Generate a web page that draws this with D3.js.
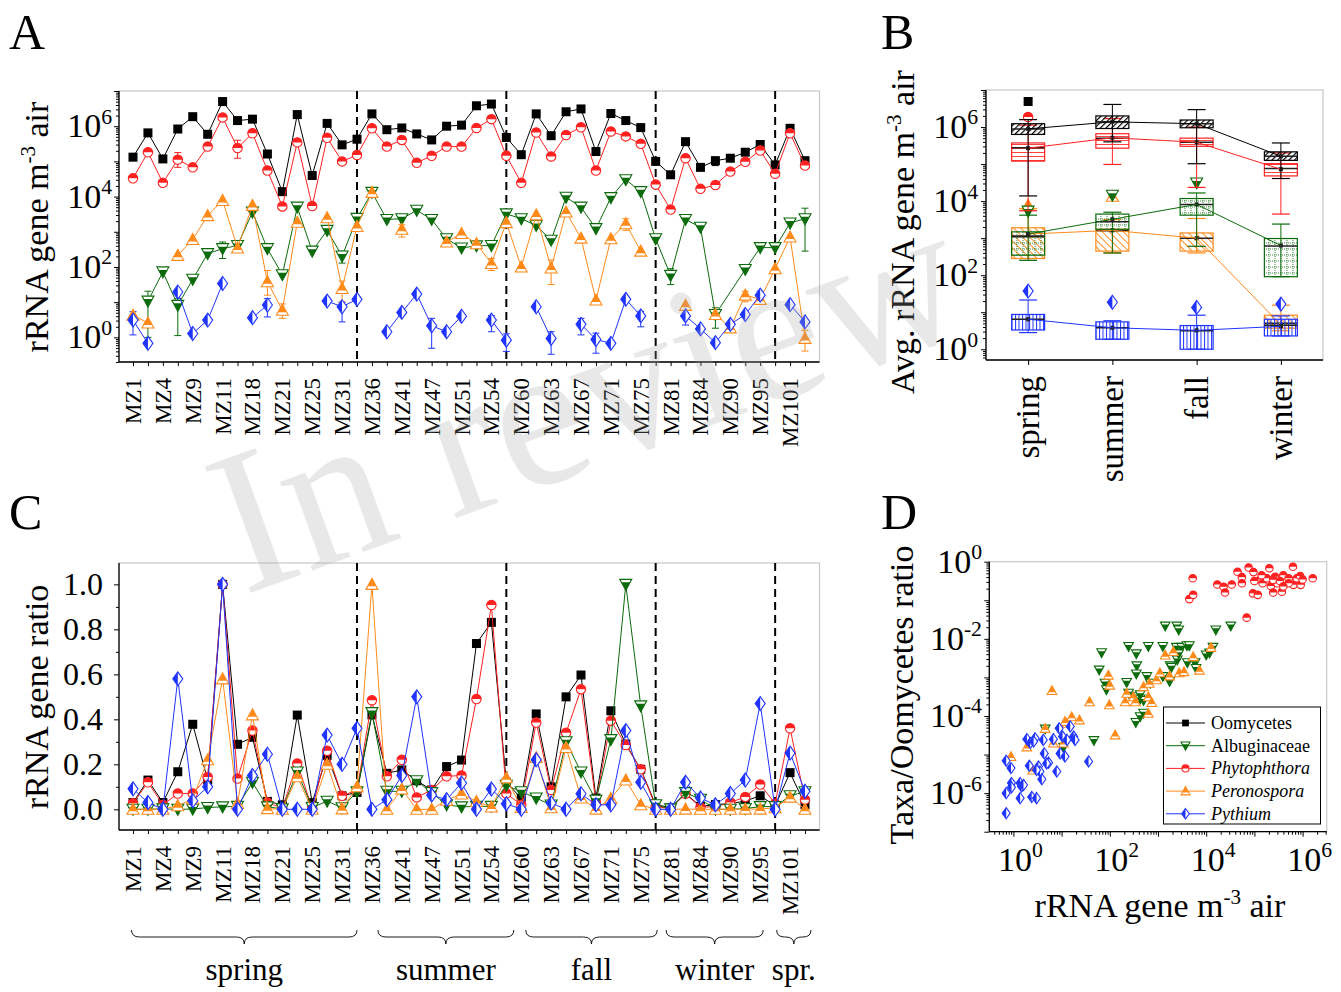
<!DOCTYPE html>
<html>
<head>
<meta charset="utf-8">
<script src="https://cdn.jsdelivr.net/npm/d3@7"></script>
<style>
body { margin: 0; background: #fff; }
svg { display: block; }
text { font-family: "Liberation Serif", "Times New Roman", serif; fill: #000; }
</style>
</head>
<body>
<script>
// ---- data ----
// sample tick labels (every second sample is labelled)
var tickLabels = ["MZ1","MZ4","MZ9","MZ11","MZ18","MZ21","MZ25","MZ31","MZ36","MZ41","MZ47","MZ51",
  "MZ54","MZ60","MZ63","MZ67","MZ71","MZ75","MZ81","MZ84","MZ90","MZ95","MZ101"];
var seasonBreaks = [15, 25, 35, 43];
var seasonNames = ["spring", "summer", "fall", "winter", "spr."];
var seasonFrom = [-0.1, 16.4, 26.3, 35.7, 43.1];
var seasonTo = [15, 25.5, 35.1, 42.2, 45.4];

// panel A, log10 of rRNA gene m-3 air (null = not detected)
var oomycetesLog = [5.12,5.81,5.07,5.92,6.27,5.77,6.70,6.16,6.20,5.21, 4.14,6.33,4.60,6.08,5.47,5.63,6.35,5.90,5.95,5.78,
  5.61,6.00,6.03,6.58,6.63,5.68,5.19,6.35,5.73,6.41, 6.49,5.28,6.36,6.16,5.96,5.00,4.62,5.56,4.83,5.02, 5.09,5.26,5.48,4.90,5.94,5.02];
var phytophthoraLog = [4.52,5.26,4.39,5.05,4.83,5.42,6.25,5.38,5.80,4.74, 3.72,5.54,3.73,5.67,5.00,5.18,5.94,5.42,5.61,4.96,
  5.16,5.42,5.42,5.95,6.20,5.16,4.39,5.82,5.14,5.75, 5.97,4.74,5.85,5.71,5.50,4.34,3.63,5.09,4.22,4.33, 4.71,4.99,5.31,4.65,5.80,4.88];
var albuginaceaeLog = [null,1.03,1.86,0.91,1.65,2.38,2.52,2.61,3.56,2.52, 1.78,3.70,2.45,3.04,2.31,3.38,4.12,3.35,3.37,3.61,
  3.35,2.80,2.54,2.60,2.61,3.51,3.37,3.18,2.76,3.98, 3.70,3.09,3.97,4.48,4.14,2.80,1.76,3.35,3.13,0.65, null,1.93,2.55,2.55,3.25,3.37];
var peronosporaLog = [0.63,0.41,null,2.33,2.78,3.46,3.89,2.54,3.75,1.58, 0.77,3.27,null,3.40,1.39,3.15,4.12,null,3.07,null,
  null,2.71,2.95,2.66,2.10,3.26,2.00,3.48,1.97,3.56, 2.82,1.06,2.80,3.23,2.45,null,null,0.91,null,0.65, 0.27,1.20,1.08,1.95,2.85,-0.03];
var pythiumLog = [0.49,-0.17,null,1.29,0.11,0.49,1.53,null,0.56,0.92, null,null,null,1.03,0.87,1.08,null,0.16,0.71,1.23,
  0.33,0.16,0.60,null,0.49,-0.08,null,0.87,-0.03,null, 0.37,-0.06,-0.17,1.08,0.61,null,null,0.61,0.24,-0.15, 0.37,0.65,1.20,null,0.93,0.44];

// error bars in panel A: [series, sample index, low log10, high log10]
var errorBarsA = [
  ["phy",3,4.83,5.25],["phy",7,5.09,5.6],
  ["alb",1,0.0,1.31],["alb",3,0.05,1.1],["alb",6,2.24,2.71],["alb",14,2.11,2.45],["alb",36,1.50,1.95],["alb",39,0.26,0.84],["alb",45,2.45,3.67],
  ["pyt",0,0.07,0.73],["pyt",9,0.58,1.10],["pyt",14,0.44,1.0],["pyt",20,-0.31,0.54],["pyt",24,0.16,0.62],["pyt",25,-0.40,0.1],
  ["pyt",28,-0.48,0.16],["pyt",30,0.07,0.54],["pyt",31,-0.45,0.12],["pyt",34,0.30,0.74],["pyt",37,0.35,0.7],["pyt",42,0.96,1.31],
  ["per",9,1.20,1.9],["per",10,0.54,0.95],["per",14,1.01,1.6],["per",18,2.85,3.2],["per",24,1.90,2.24],["per",28,1.50,2.2],
  ["per",33,3.04,3.37],["per",41,1.01,1.31],["per",45,-0.39,0.2],
  ["oom",39,4.88,5.12]
];

// panel C, rRNA gene ratio
var ratioOomycetes = [0.03,0.13,0.03,0.167,0.378,0.13,1.0,0.289,0.32,0.035, 0.02,0.419,0.03,0.24,0.06,0.075,0.42,0.16,0.175,0.127,
  0.086,0.19,0.219,0.737,0.831,0.12,0.049,0.424,0.1,0.5, 0.597,0.05,0.438,0.29,0.178,0.02,0.008,0.07,0.013,0.021, 0.025,0.037,0.06,0.016,0.163,0.02];
var ratioPhytophthora = [0.027,0.12,0.02,0.07,0.07,0.144,1.0,0.137,0.35,0.03, 0.005,0.204,0.005,0.26,0.06,0.085,0.485,0.147,0.22,0.053,
  0.086,0.147,0.15,0.49,0.908,0.07,0.02,0.386,0.086,0.34, 0.534,0.03,0.394,0.286,0.178,0.012,0.003,0.069,0.009,0.012, 0.03,0.055,0.11,0.025,0.36,0.043];
var ratioAlbuginaceae = [0.0,0.0,0.002,0.0,0.001,0.008,0.011,0.013,0.12,0.011, 0.002,0.166,0.008,0.036,0.007,0.078,0.43,0.08,0.08,0.127,
  0.074,0.02,0.011,0.013,0.013,0.107,0.078,0.05,0.019,0.3, 0.166,0.04,0.31,1.0,0.46,0.02,0.002,0.074,0.045,0.0, 0.0,0.003,0.012,0.012,0.06,0.078];
var ratioPeronospora = [0.0,0.0,0.0,0.016,0.046,0.22,0.58,0.026,0.42,0.003, 0.0,0.145,0.0,0.2,0.002,0.1,1.0,0.0,0.09,0.0,
  0.0,0.04,0.068,0.035,0.01,0.14,0.008,0.23,0.007,0.275, 0.05,0.001,0.048,0.13,0.02,0.0,0.0,0.001,0.0,0.0, 0.0,0.001,0.001,0.007,0.054,0.0];
var ratioPythium = [0.091,0.03,0.0,0.58,0.038,0.1,1.0,0.0,0.15,0.245, 0.0,0.0,0.0,0.33,0.2,0.36,0.0,0.043,0.15,0.5,
  0.063,0.043,0.117,0.0,0.09,0.025,0.0,0.22,0.028,0.0, 0.069,0.02,0.02,0.35,0.12,0.0,0.0,0.12,0.05,0.02, 0.07,0.13,0.47,0.0,0.25,0.08];

// panel B, per season: [whisker low, q1, median, q3, whisker high, mean] in log10
var seasons = ["spring", "summer", "fall", "winter"];
var boxOomycetes = [[4.14,5.80,5.95,6.09,6.20,5.95],[5.60,5.96,6.14,6.30,6.61,6.14],[5.01,5.98,6.09,6.19,6.47,6.09],[4.61,5.10,5.21,5.33,5.57,5.21]];
var boxPhytophthora = [[3.74,5.08,5.44,5.57,6.05,5.43],[4.99,5.43,5.70,5.82,6.23,5.71],[4.37,5.48,5.59,5.70,6.00,5.59],[3.65,4.68,4.88,5.01,5.30,4.86]];
var boxAlbuginaceae = [[2.40,2.54,3.06,3.17,3.62,3.11],[2.60,3.24,3.44,3.65,3.70,3.51],[2.78,3.62,3.91,4.07,4.22,3.91],[1.96,1.96,2.79,2.99,3.38,2.80]];
var boxPeronospora = [[2.45,2.45,3.04,3.28,3.80,3.11],[2.60,2.65,3.20,3.24,3.50,3.21],[2.60,2.65,3.00,3.14,3.53,3.00],[0.50,0.57,0.70,0.92,1.19,0.66]];
var boxPythium = [[0.45,0.52,0.81,0.94,1.33,0.81],[0.27,0.27,0.58,0.74,0.77,0.58],[0.0,0.0,0.50,0.64,0.92,0.51],[0.36,0.36,0.65,0.81,0.90,0.62]];
var outOomycetes = [[6.69],[],[],[]];
var outPhytophthora = [[6.27],[],[],[]];
var outAlbuginaceae = [[3.73],[4.16],[4.49],[]];
var outPeronospora = [[3.89],[4.13],[],[]];
var outPythium = [[1.57],[1.27],[1.13],[1.22]];

// panel D, [log10 rRNA gene m-3 air, log10 taxa/Oomycetes ratio]
var scatterPhytophthora = [[3.72,-0.43],[3.65,-0.97],[3.73,-0.86],[4.23,-0.59],[4.36,-0.65],[4.39,-0.80],[4.53,-0.59],[4.65,-0.26],
  [4.74,-0.40],[4.74,-0.56],[4.88,-0.15],[4.98,-0.27],[4.97,-0.82],[5.07,-0.86],[5.12,-0.46],[5.17,-0.56],[5.26,-0.43],[5.31,-0.17],
  [5.34,-0.63],[5.39,-0.80],[5.43,-0.39],[5.48,-0.56],[5.57,-0.78],[5.60,-0.35],[5.71,-0.43],[5.80,-0.13],[5.81,-0.60],[5.88,-0.43],
  [5.95,-0.37],[5.96,-0.60],[6.00,-0.46],[6.21,-0.43],[4.84,-1.45],[5.39,-0.47],[5.53,-0.50],[5.15,-0.35],[5.71,-0.56],[5.00,-0.50],[5.60,-0.64]];
var scatterAlbuginaceae = [[1.83,-2.36],[1.78,-2.81],[1.90,-3.15],[1.93,-3.32],[1.67,-4.64],[1.04,-4.81],[0.66,-4.34],[2.39,-2.20],
  [2.55,-2.39],[2.56,-2.70],[2.55,-2.91],[2.35,-3.13],[2.39,-3.41],[2.53,-3.50],[2.63,-3.56],[2.70,-3.60],[2.54,-4.17],[2.63,-4.02],
  [2.70,-3.93],[2.80,-2.20],[2.77,-2.98],[2.84,-3.15],[3.10,-2.20],[3.15,-1.67],[3.39,-1.67],[3.43,-1.77],[3.38,-2.22],[3.49,-2.22],
  [3.60,-2.18],[3.25,-2.70],[3.40,-2.55],[3.43,-2.39],[3.61,-2.62],[3.77,-2.62],[3.79,-2.77],[4.00,-2.42],[4.07,-2.37],[4.14,-2.22],
  [4.20,-1.77],[4.51,-1.67],[3.10,-2.98],[3.24,-3.11],[3.65,-2.18],[3.28,-2.74],[2.63,-3.45]];
var scatterPeronospora = [[0.80,-3.34],[1.58,-3.63],[1.97,-2.94],[2.00,-3.20],[1.99,-3.71],[2.11,-4.49],[2.32,-3.63],[2.35,-3.41],
  [2.49,-3.50],[2.53,-3.63],[2.70,-3.24],[2.80,-3.50],[2.87,-3.65],[2.82,-3.15],[2.97,-3.06],[3.04,-2.88],[3.15,-2.42],[3.24,-2.96],
  [3.32,-2.33],[3.44,-2.88],[3.54,-2.85],[3.73,-2.46],[3.86,-2.81],[4.10,-2.22],[1.21,-4.02],[1.37,-4.10],[1.11,-4.19],[0.66,-4.32],
  [0.28,-4.80],[-0.05,-5.05],[0.40,-5.40],[0.83,-4.70],[1.04,-4.70],[1.07,-4.14],[2.80,-3.93]];
var scatterPythium = [[-0.15,-5.16],[-0.05,-5.35],[-0.15,-6.00],[-0.15,-6.52],[-0.04,-5.74],[0.14,-5.74],[0.17,-5.83],[0.14,-6.13],
  [0.28,-4.60],[0.35,-4.70],[0.33,-5.29],[0.38,-6.10],[0.48,-6.13],[0.45,-4.58],[0.52,-5.31],[0.55,-5.44],[0.59,-5.64],[0.62,-4.62],
  [0.64,-4.97],[0.73,-5.21],[0.83,-4.60],[0.90,-5.44],[0.95,-4.32],[0.97,-4.97],[1.02,-4.53],[1.07,-5.05],[1.18,-4.27],[1.25,-4.53],
  [1.28,-4.62],[1.56,-5.18],[0.42,-4.66],[0.48,-5.40],[-0.04,-5.85],[0.21,-5.79],[0.69,-5.23],[1.11,-4.62]];

// ---- styles ----
var series = [
  {key: "oom", name: "Oomycetes", italic: false, color: "#000000", shape: "square", logs: oomycetesLog, ratio: ratioOomycetes, box: boxOomycetes, out: outOomycetes, pts: null},
  {key: "phy", name: "Phytophthora", italic: true, color: "#ff2020", shape: "circle", logs: phytophthoraLog, ratio: ratioPhytophthora, box: boxPhytophthora, out: outPhytophthora, pts: scatterPhytophthora},
  {key: "alb", name: "Albuginaceae", italic: false, color: "#0b6b0b", shape: "down", logs: albuginaceaeLog, ratio: ratioAlbuginaceae, box: boxAlbuginaceae, out: outAlbuginaceae, pts: scatterAlbuginaceae},
  {key: "per", name: "Peronospora", italic: true, color: "#ff8a1a", shape: "up", logs: peronosporaLog, ratio: ratioPeronospora, box: boxPeronospora, out: outPeronospora, pts: scatterPeronospora},
  {key: "pyt", name: "Pythium", italic: true, color: "#1f34ff", shape: "diamond", logs: pythiumLog, ratio: ratioPythium, box: boxPythium, out: outPythium, pts: scatterPythium}
];
var byKey = {};
series.forEach(function (s) { byKey[s.key] = s; });
var frameColor = "#c8c8c8";
var tickFs = 34, titleFs = 34;

var svg = d3.select("body").append("svg").attr("width", 1341).attr("height", 992);
var defs = svg.append("defs");

function hatch(id, color, angle, gap, w) {
  var p = defs.append("pattern").attr("id", id).attr("patternUnits", "userSpaceOnUse")
    .attr("width", gap).attr("height", gap).attr("patternTransform", "rotate(" + angle + ")");
  p.append("line").attr("x1", 0.5).attr("y1", 0).attr("x2", 0.5).attr("y2", gap)
    .attr("stroke", color).attr("stroke-width", w);
}
hatch("pat-oom", "#000", 45, 4, 1.4);
hatch("pat-phy", "#ff4040", 90, 4, 1);
hatch("pat-per", "#ff8a1a", -45, 5, 1);
hatch("pat-pyt", "#1f34ff", 0, 3.5, 1);
var pg = defs.append("pattern").attr("id", "pat-alb").attr("patternUnits", "userSpaceOnUse").attr("width", 6).attr("height", 6);
pg.append("line").attr("x1", 3).attr("y1", 0).attr("x2", 3).attr("y2", 6).attr("stroke", "#0b6b0b").attr("stroke-width", 0.8).attr("stroke-dasharray", "1,1");
pg.append("line").attr("x1", 0).attr("y1", 3).attr("x2", 6).attr("y2", 3).attr("stroke", "#0b6b0b").attr("stroke-width", 0.8).attr("stroke-dasharray", "1,1");

function drawMarker(g, shape, color, s) {
  if (shape === "square") {
    g.append("rect").attr("x", -4.5 * s).attr("y", -4.5 * s).attr("width", 9 * s).attr("height", 9 * s).attr("fill", color);
    return;
  }
  if (shape === "circle") {
    var r = 4.7 * s;
    g.append("circle").attr("r", r).attr("fill", "#fff").attr("stroke", color).attr("stroke-width", 1.1);
    g.append("path").attr("d", "M" + (-r) + ",0A" + r + "," + r + " 0 0 1 " + r + ",0Z").attr("fill", color);
    return;
  }
  var outline, half;
  if (shape === "down") { outline = [[-6,-5],[6,-5],[0,6]]; half = [[-4.4,-2],[4.4,-2],[0,6]]; }
  if (shape === "up") { outline = [[0,-6],[6,5],[-6,5]]; half = [[0,-6],[4.4,2],[-4.4,2]]; }
  if (shape === "diamond") { outline = [[0,-7],[5,0],[0,7],[-5,0]]; half = [[0,-7],[0,7],[-5,0]]; }
  var pts = function (a) { return a.map(function (p) { return (p[0] * s) + "," + (p[1] * s); }).join(" "); };
  g.append("polygon").attr("points", pts(outline)).attr("fill", "#fff").attr("stroke", color).attr("stroke-width", 1.1);
  g.append("polygon").attr("points", pts(half)).attr("fill", color);
}

function powLabel(g, x, y, exp, anchor, fs) {
  var t = g.append("text").attr("x", x).attr("y", y).attr("text-anchor", anchor).attr("font-size", fs);
  t.append("tspan").text("10");
  t.append("tspan").attr("dy", -fs * 0.4).attr("font-size", fs * 0.64).text(exp);
  return t;
}
function unitTitle(t, pre, sup, post, fs) {
  t.append("tspan").text(pre);
  t.append("tspan").attr("dy", -fs * 0.38).attr("font-size", fs * 0.62).text(sup);
  t.append("tspan").attr("dy", fs * 0.38).text(post);
}
function logTicks(domain) {
  var lo = Math.log10(domain[0]), hi = Math.log10(domain[1]);
  var majors = [], minors = [];
  for (var e = Math.floor(lo); e <= Math.ceil(hi); e++) {
    if (e >= lo - 1e-9 && e <= hi + 1e-9) majors.push(Math.pow(10, e));
    for (var m = 2; m < 10; m++) {
      var v = m * Math.pow(10, e);
      if (Math.log10(v) >= lo && Math.log10(v) <= hi) minors.push(v);
    }
  }
  return {majors: majors, minors: minors};
}
function ticksOnly(g, axis, vals, size, transform) {
  var a = g.append("g").attr("transform", transform).call(axis.tickValues(vals).tickSize(size).tickFormat(""));
  a.select(".domain").remove();
  a.selectAll("line").attr("stroke", "#000").attr("stroke-width", 1);
}
function frame(g, x0, y0, x1, y1) {
  g.append("rect").attr("x", x0).attr("y", y0).attr("width", x1 - x0).attr("height", y1 - y0)
    .attr("fill", "none").attr("stroke", frameColor).attr("stroke-width", 1.2);
  g.append("line").attr("x1", x0).attr("x2", x0).attr("y1", y0).attr("y2", y1).attr("stroke", "#000").attr("stroke-width", 1.3);
  g.append("line").attr("x1", x0).attr("x2", x1).attr("y1", y1).attr("y2", y1).attr("stroke", "#000").attr("stroke-width", 1.3);
}
function pointsOf(arr) {
  return arr.map(function (v, i) { return {i: i, v: v}; }).filter(function (d) { return d.v != null; });
}

// ================= Panel A =================
var gA = svg.append("g");
var xA = d3.scaleLinear().domain([0, 45]).range([133, 805]);
var yA = d3.scaleLog().domain([Math.pow(10, -0.7), 1e7]).range([362, 91]);
var ta = logTicks(yA.domain());
frame(gA, 119, 91, 819.5, 362);
ticksOnly(gA, d3.axisLeft(yA), ta.majors, 5, "translate(119,0)");
ticksOnly(gA, d3.axisLeft(yA), ta.minors, 3, "translate(119,0)");
ticksOnly(gA, d3.axisBottom(xA), d3.range(46), 4, "translate(0,362)");
[0, 2, 4, 6].forEach(function (e) { powLabel(gA, 112, yA(Math.pow(10, e)) + 11, e, "end", tickFs); });
tickLabels.forEach(function (l, k) {
  gA.append("text").attr("transform", "translate(" + (xA(2 * k) + 8) + ",378) rotate(-90)")
    .attr("text-anchor", "end").attr("font-size", 23).text(l);
});
var tA = gA.append("text").attr("transform", "translate(48,227) rotate(-90)").attr("text-anchor", "middle").attr("font-size", titleFs);
unitTitle(tA, "rRNA gene m", "-3", " air", titleFs);

seasonBreaks.forEach(function (b) {
  gA.append("line").attr("x1", xA(b)).attr("x2", xA(b)).attr("y1", 91).attr("y2", 362)
    .attr("stroke", "#000").attr("stroke-width", 2).attr("stroke-dasharray", "8,5");
});

errorBarsA.forEach(function (e) {
  var s = byKey[e[0]], x = xA(e[1]);
  var y0 = yA(Math.pow(10, e[2])), y1 = yA(Math.pow(10, e[3]));
  gA.append("line").attr("x1", x).attr("x2", x).attr("y1", y0).attr("y2", y1).attr("stroke", s.color).attr("stroke-width", 1);
  [y0, y1].forEach(function (y) {
    gA.append("line").attr("x1", x - 3.5).attr("x2", x + 3.5).attr("y1", y).attr("y2", y).attr("stroke", s.color).attr("stroke-width", 1);
  });
});

series.forEach(function (s) {
  var pts = pointsOf(s.logs);
  var line = d3.line().x(function (d) { return xA(d.i); }).y(function (d) { return yA(Math.pow(10, d.v)); });
  if (s.key === "alb") {
    gA.append("path").attr("d", line(pts)).attr("fill", "none").attr("stroke", s.color).attr("stroke-width", 1);
  } else {
    line.defined(function (d) { return d.v != null; });
    gA.append("path").attr("d", line(s.logs.map(function (v, i) { return {i: i, v: v}; })))
      .attr("fill", "none").attr("stroke", s.color).attr("stroke-width", 1);
  }
  gA.selectAll(null).data(pts).join("g")
    .attr("transform", function (d) { return "translate(" + xA(d.i) + "," + yA(Math.pow(10, d.v)) + ")"; })
    .each(function () { drawMarker(d3.select(this), s.shape, s.color, 1); });
});

// ================= Panel C =================
var gC = svg.append("g");
var xC = xA;
var yC = d3.scaleLinear().domain([-0.092, 1.095]).range([830, 563]);
frame(gC, 119, 563, 819.5, 830);
ticksOnly(gC, d3.axisLeft(yC), [0, 0.2, 0.4, 0.6, 0.8, 1.0], 5, "translate(119,0)");
ticksOnly(gC, d3.axisLeft(yC), [0.1, 0.3, 0.5, 0.7, 0.9], 3, "translate(119,0)");
ticksOnly(gC, d3.axisBottom(xC), d3.range(46), 4, "translate(0,830)");
[0, 0.2, 0.4, 0.6, 0.8, 1.0].forEach(function (v) {
  gC.append("text").attr("x", 103).attr("y", yC(v) + 11).attr("text-anchor", "end").attr("font-size", 32).text(v.toFixed(1));
});
tickLabels.forEach(function (l, k) {
  gC.append("text").attr("transform", "translate(" + (xC(2 * k) + 8) + ",846) rotate(-90)")
    .attr("text-anchor", "end").attr("font-size", 23).text(l);
});
gC.append("text").attr("transform", "translate(48,697) rotate(-90)").attr("text-anchor", "middle")
  .attr("font-size", titleFs).text("rRNA gene ratio");
seasonBreaks.forEach(function (b) {
  gC.append("line").attr("x1", xC(b)).attr("x2", xC(b)).attr("y1", 563).attr("y2", 830)
    .attr("stroke", "#000").attr("stroke-width", 2).attr("stroke-dasharray", "8,5");
});
series.forEach(function (s) {
  var pts = s.ratio.map(function (v, i) { return {i: i, v: v}; });
  var line = d3.line().x(function (d) { return xC(d.i); }).y(function (d) { return yC(d.v); });
  gC.append("path").attr("d", line(pts)).attr("fill", "none").attr("stroke", s.color).attr("stroke-width", 1);
  gC.selectAll(null).data(pts).join("g")
    .attr("transform", function (d) { return "translate(" + xC(d.i) + "," + yC(d.v) + ")"; })
    .each(function () { drawMarker(d3.select(this), s.shape, s.color, 1); });
});
// season braces
function bracePath(x0, x1, y, h) {
  var m = (x0 + x1) / 2, c = Math.min(8, (x1 - x0) / 4);
  return "M" + x0 + "," + y + " Q" + x0 + "," + (y + h / 2) + " " + (x0 + c) + "," + (y + h / 2) +
    " L" + (m - c) + "," + (y + h / 2) + " Q" + m + "," + (y + h / 2) + " " + m + "," + (y + h) +
    " Q" + m + "," + (y + h / 2) + " " + (m + c) + "," + (y + h / 2) +
    " L" + (x1 - c) + "," + (y + h / 2) + " Q" + x1 + "," + (y + h / 2) + " " + x1 + "," + y;
}
seasonNames.forEach(function (n, k) {
  var x0 = xC(seasonFrom[k]), x1 = xC(seasonTo[k]);
  gC.append("path").attr("d", bracePath(x0, x1, 930, 14)).attr("fill", "none").attr("stroke", "#000").attr("stroke-width", 0.9);
  gC.append("text").attr("x", (x0 + x1) / 2).attr("y", 980).attr("text-anchor", "middle").attr("font-size", 31).text(n);
});

// ================= Panel B =================
var gB = svg.append("g");
var xB = d3.scalePoint().domain(seasons).range([986, 1323]).padding(0.5);
var yB = d3.scaleLog().domain([Math.pow(10, -0.29), 1e7]).range([360, 90]);
var tb = logTicks(yB.domain());
frame(gB, 986, 90, 1323, 360);
ticksOnly(gB, d3.axisLeft(yB), tb.majors, 5, "translate(986,0)");
ticksOnly(gB, d3.axisLeft(yB), tb.minors, 3, "translate(986,0)");
ticksOnly(gB, d3.axisBottom(xB), seasons, 5, "translate(0,360)");
[0, 2, 4, 6].forEach(function (e) { powLabel(gB, 978, yB(Math.pow(10, e)) + 11, e, "end", tickFs); });
seasons.forEach(function (sn) {
  gB.append("text").attr("transform", "translate(" + (xB(sn) + 11) + ",376) rotate(-90)")
    .attr("text-anchor", "end").attr("font-size", 33).text(sn);
});
var tB = gB.append("text").attr("transform", "translate(914,232) rotate(-90)").attr("text-anchor", "middle").attr("font-size", titleFs);
unitTitle(tB, "Avg. rRNA gene m", "-3", " air", titleFs);

var boxOrder = ["per", "alb", "pyt", "phy", "oom"];
boxOrder.forEach(function (k) {
  var s = byKey[k];
  var yv = function (v) { return yB(Math.pow(10, v)); };
  s.box.forEach(function (b, i) {
    var cx = xB(seasons[i]);
    gB.append("line").attr("x1", cx).attr("x2", cx).attr("y1", yv(b[0])).attr("y2", yv(b[4])).attr("stroke", s.color).attr("stroke-width", 1);
    [b[0], b[4]].forEach(function (v) {
      gB.append("line").attr("x1", cx - 9).attr("x2", cx + 9).attr("y1", yv(v)).attr("y2", yv(v)).attr("stroke", s.color).attr("stroke-width", 1.2);
    });
    gB.append("rect").attr("x", cx - 16.5).attr("width", 33).attr("y", yv(b[3])).attr("height", Math.max(1, yv(b[1]) - yv(b[3])))
      .attr("fill", "url(#pat-" + k + ")").attr("stroke", s.color).attr("stroke-width", 1.2);
    gB.append("line").attr("x1", cx - 16.5).attr("x2", cx + 16.5).attr("y1", yv(b[2])).attr("y2", yv(b[2])).attr("stroke", "#222").attr("stroke-width", 1.5);
    gB.append("rect").attr("x", cx - 2).attr("y", yv(b[5]) - 2).attr("width", 4).attr("height", 4).attr("fill", "#222");
    s.out[i].forEach(function (v) {
      var m = gB.append("g").attr("transform", "translate(" + cx + "," + yv(v) + ")");
      drawMarker(m, s.shape, s.color, 1);
    });
  });
  var ml = d3.line().x(function (d, i) { return xB(seasons[i]); }).y(function (d) { return yv(d[5]); });
  gB.append("path").attr("d", ml(s.box)).attr("fill", "none").attr("stroke", s.color).attr("stroke-width", 1);
});

// ================= Panel D =================
var gD = svg.append("g");
var xD = d3.scaleLog().domain([Math.pow(10, -0.5), Math.pow(10, 6.5)]).range([989.3, 1326.7]);
var yD = d3.scaleLog().domain([1e-7, 1]).range([831.7, 561.7]);
var tdx = logTicks(xD.domain()), tdy = logTicks(yD.domain());
frame(gD, 989.3, 561.7, 1326.7, 831.7);
ticksOnly(gD, d3.axisLeft(yD), tdy.majors, 5, "translate(989.3,0)");
ticksOnly(gD, d3.axisLeft(yD), tdy.minors, 3, "translate(989.3,0)");
ticksOnly(gD, d3.axisBottom(xD), tdx.majors, 5, "translate(0,831.7)");
ticksOnly(gD, d3.axisBottom(xD), tdx.minors, 3, "translate(0,831.7)");
[0, -2, -4, -6].forEach(function (e) { powLabel(gD, 982, yD(Math.pow(10, e)) + 11, e, "end", tickFs); });
[0, 2, 4, 6].forEach(function (e) { powLabel(gD, xD(Math.pow(10, e)) + 7, 871, e, "middle", tickFs); });
var tDx = gD.append("text").attr("x", 1160).attr("y", 917).attr("text-anchor", "middle").attr("font-size", titleFs);
unitTitle(tDx, "rRNA gene m", "-3", " air", titleFs);
gD.append("text").attr("transform", "translate(913,695) rotate(-90)").attr("text-anchor", "middle")
  .attr("font-size", titleFs).text("Taxa/Oomycetes ratio");

["phy", "alb", "per", "pyt"].forEach(function (k) {
  var s = byKey[k];
  gD.selectAll(null).data(s.pts).join("g")
    .attr("transform", function (d) { return "translate(" + xD(Math.pow(10, d[0])) + "," + yD(Math.pow(10, d[1])) + ")"; })
    .each(function () { drawMarker(d3.select(this), s.shape, s.color, 0.8); });
});

// legend
var lg = gD.append("g");
lg.append("rect").attr("x", 1163.5).attr("y", 707).attr("width", 157).attr("height", 117)
  .attr("fill", "#fff").attr("stroke", "#000").attr("stroke-width", 1);
["oom", "alb", "phy", "per", "pyt"].forEach(function (k, i) {
  var s = byKey[k], y = 723 + i * 22.7;
  lg.append("line").attr("x1", 1166).attr("x2", 1205).attr("y1", y).attr("y2", y).attr("stroke", s.color).attr("stroke-width", 1);
  var m = lg.append("g").attr("transform", "translate(1185.5," + y + ")");
  drawMarker(m, s.shape, s.color, 0.75);
  lg.append("text").attr("x", 1211).attr("y", y + 6).attr("font-size", 18)
    .attr("font-style", s.italic ? "italic" : "normal").text(s.name);
});

// panel letters
[["A", 9, 49], ["B", 881, 49], ["C", 9, 529], ["D", 881, 529]].forEach(function (p) {
  svg.append("text").attr("x", p[1]).attr("y", p[2]).attr("font-size", 50).text(p[0]);
});

// watermark
svg.append("text").attr("transform", "translate(610,462) rotate(-20)").attr("text-anchor", "middle")
  .attr("font-size", 205).style("fill", "#a8a8a8").attr("opacity", 0.25).text("In review");
</script>
</body>
</html>
